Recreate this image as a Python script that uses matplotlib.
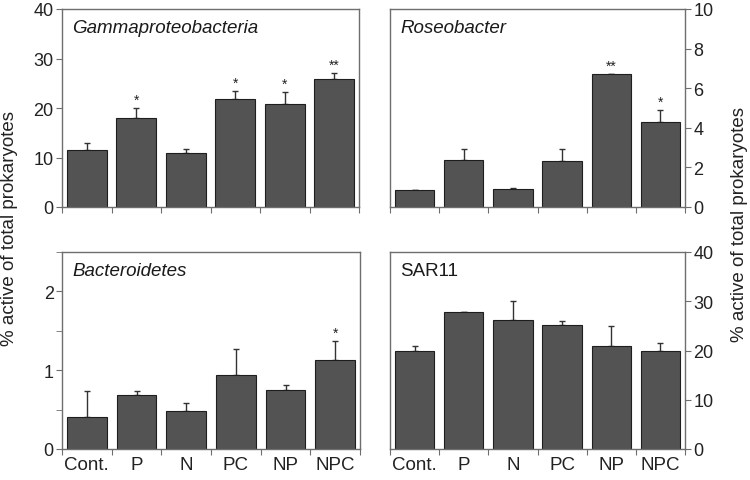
import matplotlib
matplotlib.use("Agg")
import matplotlib.pyplot as plt
import numpy as np
from matplotlib.ticker import MultipleLocator

plt.rcParams['font.family'] = ['Liberation Sans', 'DejaVu Sans']

categories = ["Cont.", "P", "N", "PC", "NP", "NPC"]

gamma_vals = [11.5, 18.0, 10.9, 21.8, 20.9, 25.8]
gamma_err = [1.5, 1.9, 0.8, 1.7, 2.3, 1.3]
gamma_sig = ["", "*", "", "*", "*", "**"]

roseo_vals = [0.86, 2.38, 0.91, 2.31, 6.7, 4.27]
roseo_err = [0.0, 0.57, 0.05, 0.64, 0.0, 0.63]
roseo_sig = ["", "", "", "", "**", "*"]

bact_vals = [0.41, 0.68, 0.48, 0.94, 0.755, 1.13]
bact_err = [0.32, 0.06, 0.10, 0.33, 0.06, 0.24]
bact_sig = ["", "", "", "", "", "*"]

sar_vals = [19.9, 27.9, 26.2, 25.2, 20.9, 19.9]
sar_err = [1.1, 0.0, 3.9, 0.8, 4.0, 1.7]
sar_sig = ["", "", "", "", "", ""]

panels = [
    dict(name="Gammaproteobacteria", italic=True, vals=gamma_vals, err=gamma_err, sig=gamma_sig,
         ylim=40, major=10, minor=None, side="left", rect=[62, 10, 359, 208], xlabels=False),
    dict(name="Roseobacter", italic=True, vals=roseo_vals, err=roseo_err, sig=roseo_sig,
         ylim=10, major=2, minor=None, side="right", rect=[390, 10, 685, 208], xlabels=False),
    dict(name="Bacteroidetes", italic=True, vals=bact_vals, err=bact_err, sig=bact_sig,
         ylim=2.5, major=1, minor=0.5, side="left", rect=[62, 253, 360, 450], xlabels=True),
    dict(name="SAR11", italic=False, vals=sar_vals, err=sar_err, sig=sar_sig,
         ylim=40, major=10, minor=None, side="right", rect=[390, 253, 685, 450], xlabels=True),
]

W, H = 750, 481
fig = plt.figure(figsize=(W / 100, H / 100), dpi=100)
spine_col = "#6e6e6e"
txt_col = "#222222"

for p in panels:
    x0, y0, x1, y1 = p["rect"]
    ax = fig.add_axes([x0 / W, 1 - y1 / H, (x1 - x0) / W, (y1 - y0) / H])
    x = np.arange(len(categories))
    ax.bar(x, p["vals"], width=0.8, color="#535353", edgecolor="#1e1e1e", linewidth=0.8, zorder=2)
    errs = np.array(p["err"])
    ax.errorbar(x, p["vals"], yerr=[np.zeros_like(errs), errs], fmt="none",
                ecolor="#333333", elinewidth=1.0, capsize=2, capthick=1.0, zorder=1)
    for xi, v, e, s in zip(x, p["vals"], p["err"], p["sig"]):
        if s:
            ax.annotate(s, (xi, v + e), xytext=(0, 1), textcoords="offset points",
                        ha="center", va="bottom", fontsize=10, color=txt_col)
    ax.set_xlim(-0.5, len(categories) - 0.5)
    ax.set_ylim(0, p["ylim"])
    ax.yaxis.set_major_locator(MultipleLocator(p["major"]))
    if p["minor"]:
        ax.yaxis.set_minor_locator(MultipleLocator(p["minor"]))
    ax.set_xticks(np.arange(len(categories) + 1) - 0.5)
    ax.set_xticklabels([])
    ax.set_xticks(x, minor=True)
    if p["xlabels"]:
        ax.set_xticklabels(categories, minor=True, fontsize=13.5, color=txt_col)
    ax.tick_params(axis="x", which="minor", length=0, pad=5)
    ax.tick_params(axis="x", which="major", length=4, direction="out", color=spine_col)
    if p["side"] == "right":
        ax.yaxis.tick_right()
    ax.tick_params(axis="y", which="both", length=4, direction="out", color=spine_col,
                   labelsize=13, pad=2, labelcolor=txt_col)
    for sp in ax.spines.values():
        sp.set_color(spine_col)
        sp.set_linewidth(1.0)
    ax.text(0.035, 0.95, p["name"], transform=ax.transAxes, ha="left", va="top",
            fontsize=13.5, style="italic" if p["italic"] else "normal", color="#1a1a1a")

fig.text(10 / W, 1 - 228 / H, "% active of total prokaryotes", rotation=90, ha="center", va="center",
         fontsize=13.5, color=txt_col)
fig.text(739 / W, 1 - 225 / H, "% active of total prokaryotes", rotation=90, ha="center", va="center",
         fontsize=13.5, color=txt_col)

fig.savefig("out.png", dpi=100, facecolor="white")
